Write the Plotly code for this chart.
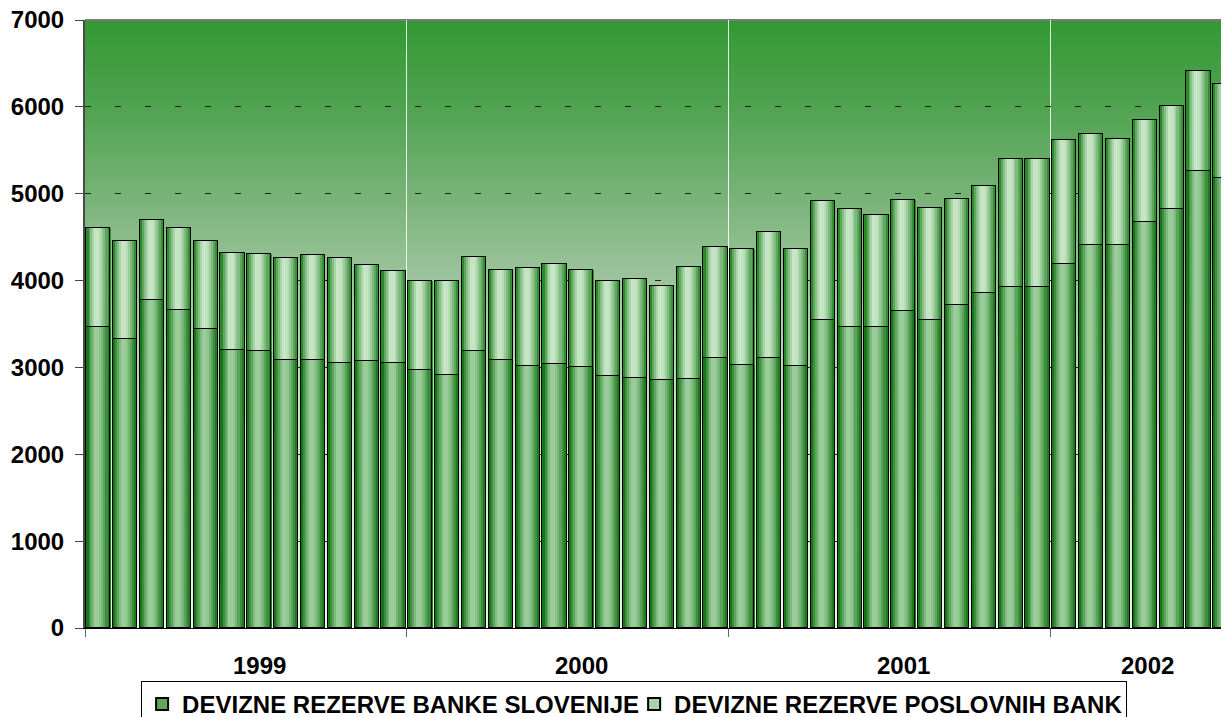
import base64
import struct
import zlib

import plotly.graph_objects as go

# ---------------- data ----------------
years = ["1999", "2000", "2001", "2002"]
months_per_year = [12, 12, 12, 7]

# foreign reserves of Banka Slovenije (lower segment)
bs = [3469, 3323, 3776, 3657, 3438, 3204, 3189, 3089, 3089, 3054, 3070, 3054,
      2970, 2913, 3193, 3089, 3016, 3043, 3001, 2898, 2882, 2855, 2867, 3105,
      3028, 3105, 3016, 3543, 3469, 3469, 3650, 3543, 3722, 3853, 3926, 3926,
      4191, 4409, 4409, 4678, 4824, 5265, 5177]
# foreign reserves of commercial banks (upper segment)
pb = [1133, 1136, 918, 945, 1021, 1117, 1120, 1174, 1205, 1209, 1105, 1060,
      1029, 1086, 1075, 1029, 1132, 1148, 1117, 1101, 1133, 1086, 1293, 1278,
      1332, 1458, 1344, 1373, 1355, 1282, 1277, 1296, 1221, 1236, 1470, 1470,
      1427, 1282, 1225, 1174, 1190, 1148, 1090]

series_names = ["DEVIZNE REZERVE BANKE SLOVENIJE", "DEVIZNE REZERVE POSLOVNIH BANK"]
y_ticks = [0, 1000, 2000, 3000, 4000, 5000, 6000, 7000]

# ---------------- derived categories ----------------
periods = []
for yr, m in zip(years, months_per_year):
    for k in range(m):
        periods.append(f"{yr}-{k + 1:02d}")
xpos = list(range(len(periods)))

# ---------------- style ----------------
FONT = "Arial, 'Liberation Sans', Helvetica, sans-serif"
FS = 24
# page body has an 8px default margin; compensate so the plot lands where the reference has it
OFF = 8
W, H = 1229 - OFF, 719
ML, MT, MR = 85 - OFF, 20 - OFF, 0
PLOT_H = 608
MB = H - MT - PLOT_H
plot_w = W - ML - MR
slot_px = 26.83
x_lo = -0.5
x_hi = x_lo + plot_w / slot_px
BW = 0.9

stripes_low = [
    (0.00, 0.09, "#177517"), (0.09, 0.17, "#3d8f3d"), (0.17, 0.25, "#5ea65e"),
    (0.25, 0.33, "#7dba7d"), (0.33, 0.54, "#99cc99"), (0.54, 0.62, "#8cc38c"),
    (0.62, 0.70, "#76b576"), (0.70, 0.79, "#5aa35a"), (0.79, 0.88, "#3c8e3c"),
    (0.88, 1.00, "#1f7a1f"),
]
stripes_up = [
    (0.00, 0.09, "#2a8a2a"), (0.09, 0.17, "#5fa75f"), (0.17, 0.25, "#86c086"),
    (0.25, 0.33, "#a8d4a8"), (0.33, 0.54, "#c5e5c5"), (0.54, 0.62, "#b7dcb7"),
    (0.62, 0.70, "#9ccc9c"), (0.70, 0.79, "#7fbb7f"), (0.79, 0.88, "#5ea65e"),
    (0.88, 1.00, "#348f34"),
]


def gradient_png():
    stops = [(0.0, (51, 153, 51)), (0.143, (80, 163, 80)), (0.285, (118, 178, 118)),
             (0.38, (145, 190, 145)), (0.5, (175, 207, 175)), (0.7, (212, 229, 212)),
             (1.0, (238, 244, 238))]
    h = PLOT_H
    rows = []
    for i in range(h):
        f = i / (h - 1)
        for j in range(len(stops) - 1):
            f0, c0 = stops[j]
            f1, c1 = stops[j + 1]
            if f0 <= f <= f1:
                t = (f - f0) / (f1 - f0)
                c = tuple(int(round(c0[k] + (c1[k] - c0[k]) * t)) for k in range(3))
                break
        rows.append(b"\x00" + bytes(c) * 2)
    raw = b"".join(rows)

    def chunk(tag, data):
        return (struct.pack(">I", len(data)) + tag + data
                + struct.pack(">I", zlib.crc32(tag + data) & 0xffffffff))

    png = b"\x89PNG\r\n\x1a\n"
    png += chunk(b"IHDR", struct.pack(">IIBBBBB", 2, h, 8, 2, 0, 0, 0))
    png += chunk(b"IDAT", zlib.compress(raw, 9))
    png += chunk(b"IEND", b"")
    return "data:image/png;base64," + base64.b64encode(png).decode()


fig = go.Figure()


def add_series(values, base, name, stripes, legend_color):
    common = dict(x=xpos, y=values, hoverinfo="skip")
    if base is not None:
        common["base"] = base
    fig.add_trace(go.Bar(**common, width=BW, name=name, legendgroup=name,
                         marker=dict(color=legend_color, line=dict(color="black", width=1))))
    for f0, f1, col in stripes:
        fig.add_trace(go.Bar(**common, width=(f1 - f0) * BW + 0.004,
                             offset=-BW / 2 + f0 * BW, showlegend=False, legendgroup=name,
                             marker=dict(color=col, line=dict(width=0))))
    fig.add_trace(go.Bar(**common, width=BW, showlegend=False, legendgroup=name,
                         marker=dict(color="rgba(0,0,0,0)", line=dict(color="black", width=1))))


add_series(bs, None, series_names[0], stripes_low, "#5ea65e")
add_series(pb, bs, series_names[1], stripes_up, "#a8d4a8")

# year boundaries and label positions
bounds = []
labels_x = []
start = 0
for m in months_per_year:
    lo = start - 0.5
    hi = min(start + m - 0.5, x_hi)
    bounds.append(lo)
    labels_x.append((lo + hi) / 2 + (hi - lo) / 24)
    start += m

label_y = (628 - 665) / PLOT_H
annotations = [
    dict(x=lx, y=label_y, xref="x", yref="paper",
         text=yr, showarrow=False, xanchor="center", yanchor="middle",
         font=dict(family=FONT, size=FS, color="black", weight="bold"))
    for lx, yr in zip(labels_x, years)
]

fig.update_layout(
    width=W, height=H,
    margin=dict(l=ML, r=MR, t=MT, b=MB, pad=0, autoexpand=False),
    paper_bgcolor="white",
    plot_bgcolor="rgba(0,0,0,0)",
    barmode="overlay",
    bargap=0,
    showlegend=True,
    legend=dict(orientation="h", x=0.48, xanchor="center", yref="container",
                y=1 - (681 - OFF) / H, yanchor="top", bgcolor="white", bordercolor="black",
                borderwidth=1, font=dict(family=FONT, size=FS, color="black", weight="bold"),
                itemsizing="constant", traceorder="normal", tracegroupgap=0,
                entrywidth=447, entrywidthmode="pixels"),
    images=[dict(source=gradient_png(), xref="paper", yref="paper", x=0, y=1,
                 sizex=1, sizey=1, xanchor="left", yanchor="top", sizing="stretch",
                 layer="below")],
    shapes=[dict(type="line", xref="paper", yref="paper", x0=0, x1=1, y0=1, y1=1,
                 line=dict(color="#7a7a7a", width=2), layer="below")],
    annotations=annotations,
    xaxis=dict(range=[x_lo, x_hi], tickmode="array", tickvals=bounds, showticklabels=False,
               ticks="outside", ticklen=8, tickcolor="#666", tickwidth=1,
               showgrid=True, gridcolor="rgba(255,255,255,0.85)", gridwidth=1,
               showline=True, linecolor="black", linewidth=1, zeroline=False,
               fixedrange=True, automargin=False),
    yaxis=dict(range=[0, 7000], tickmode="array", tickvals=y_ticks,
               ticks="outside", ticklen=8, tickcolor="#444", tickwidth=1,
               showline=True, linecolor="#4a4a4a", linewidth=2,
               showgrid=True, gridcolor="#222", gridwidth=1, griddash="6px,24px",
               zeroline=False, ticklabelstandoff=6, automargin=False,
               ticklabeloverflow="allow",
               tickfont=dict(family=FONT, size=FS, color="black", weight="bold")),
)

fig.write_html("out.html")
